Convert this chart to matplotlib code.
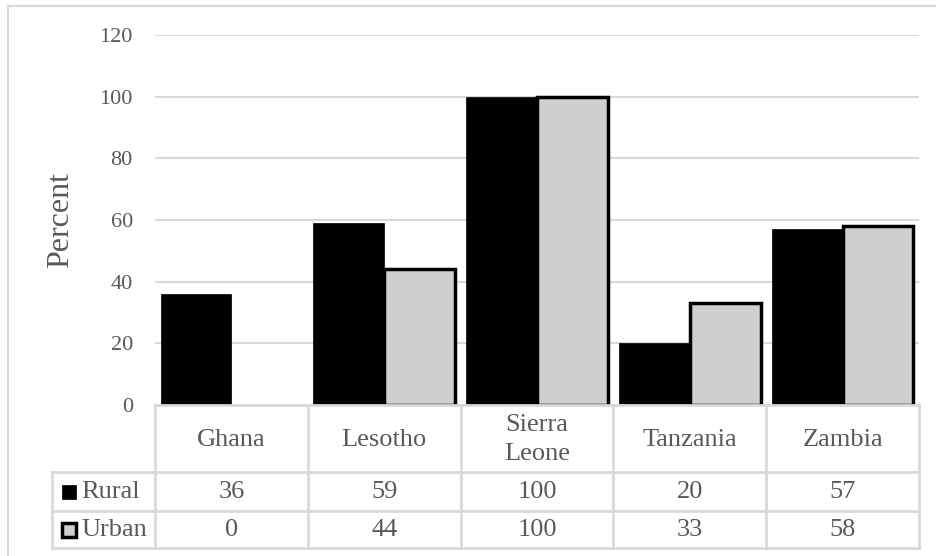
import matplotlib
matplotlib.use("Agg")
import matplotlib.pyplot as plt
from matplotlib.lines import Line2D
from matplotlib.patches import Rectangle
import matplotlib.transforms as mtransforms
import numpy as np

# Data
countries = ["Ghana", "Lesotho", "Sierra\nLeone", "Tanzania", "Zambia"]
series_names = ["Rural", "Urban"]
rural = [36, 59, 100, 20, 57]
urban = [0, 44, 100, 33, 58]
y_ticks = [0, 20, 40, 60, 80, 100, 120]
y_label = "Percent"

# Styling
W, H = 937, 556
DPI = 100
TEXT = "#595959"
GRID = "#D9D9D9"
URBAN_FILL = "#D0CECE"
FONT = "Liberation Serif"
plt.rcParams["font.family"] = [FONT, "DejaVu Serif"]

fig = plt.figure(figsize=(W / DPI, H / DPI), dpi=DPI)


def fx(px):
    return px / W


def fy(py):
    return (H - py) / H


# plot area in pixel coordinates
ax_left, ax_right, ax_top, ax_bottom = 155, 919, 35, 405
ax = fig.add_axes([fx(ax_left), fy(ax_bottom), fx(ax_right - ax_left),
                   (ax_bottom - ax_top) / H])

x = np.arange(len(countries))
bw = 0.464
ax.bar(x - bw / 2, rural, width=bw, color="black", edgecolor="black",
       linewidth=0.5, zorder=3)
urban_lw = [2.5 if v > 0 else 0 for v in urban]
ax.bar(x + bw / 2, urban, width=bw, color=URBAN_FILL, edgecolor="black",
       linewidth=urban_lw, zorder=3)

ax.set_xlim(-0.5, len(countries) - 0.5)
ax.set_ylim(0, 120)
ax.set_yticks(y_ticks)
ax.set_yticklabels([str(t) for t in y_ticks], fontsize=16, color=TEXT)
ax.set_xticks([])
ax.tick_params(axis="y", length=0, pad=16)
ax.grid(axis="y", color=GRID, linewidth=1.5, zorder=0)
ax.set_axisbelow(True)
for s in ax.spines.values():
    s.set_visible(False)

fig.text(fx(61), fy(220), y_label, rotation=90, ha="center", va="center",
         fontsize=23, color=TEXT)

# Data table below the plot: x in data units, y in figure fraction
tr = mtransforms.blended_transform_factory(ax.transData, fig.transFigure)
row_top, row_cat, row_r, row_u = 405, 472, 511, 548
legend_left = -0.5 - (ax_left - 52) / ((ax_right - ax_left) / len(countries))
x_end = len(countries) - 0.5


def hline(py, x0, x1):
    fig.add_artist(Line2D([x0, x1], [fy(py), fy(py)], transform=tr,
                          color=GRID, linewidth=2, zorder=5))


def vline(xd, py0, py1):
    fig.add_artist(Line2D([xd, xd], [fy(py0), fy(py1)], transform=tr,
                          color=GRID, linewidth=2, zorder=5))


hline(row_top, -0.5, x_end)
for py in (row_cat, row_r, row_u):
    hline(py, legend_left, x_end)
vline(legend_left, row_cat, row_u)
for b in np.arange(-0.5, len(countries)):
    vline(b, row_top, row_u)

for i, name in enumerate(countries):
    fig.text(i, fy((row_top + row_cat) / 2 + 1), name, transform=tr,
             ha="center", va="center", fontsize=19, color=TEXT,
             linespacing=1.4)
    fig.text(i, fy((row_cat + row_r) / 2), str(rural[i]), transform=tr,
             ha="center", va="center", fontsize=19, color=TEXT)
    fig.text(i, fy((row_r + row_u) / 2), str(urban[i]), transform=tr,
             ha="center", va="center", fontsize=19, color=TEXT)

# legend keys inside the table
for j, (name, fc, ec, lw) in enumerate([
        (series_names[0], "black", "black", 0.5),
        (series_names[1], URBAN_FILL, "black", 2.5)]):
    yc = (row_cat + row_r) / 2 if j == 0 else (row_r + row_u) / 2
    fig.add_artist(Rectangle((fx(62), fy(yc + 7)), fx(14), 14 / H,
                             transform=fig.transFigure, facecolor=fc,
                             edgecolor=ec, linewidth=lw, zorder=6))
    fig.text(fx(81), fy(yc), name, ha="left", va="center", fontsize=19,
             color=TEXT)

# chart border
fig.add_artist(Line2D([fx(8), fx(8)], [fy(6), 0], transform=fig.transFigure,
                      color=GRID, linewidth=1.5))
fig.add_artist(Line2D([fx(8), 1], [fy(6), fy(6)], transform=fig.transFigure,
                      color=GRID, linewidth=1.5))

fig.savefig("out.png", dpi=DPI)
